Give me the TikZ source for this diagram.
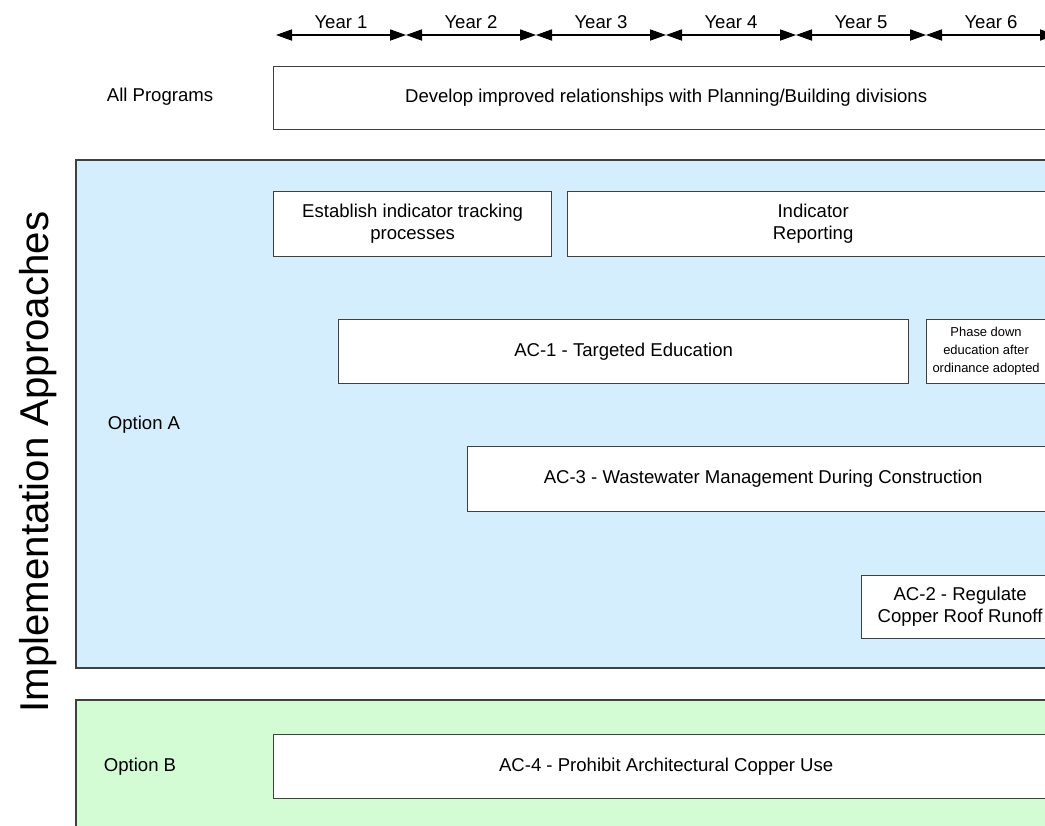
\documentclass[tikz,border=0pt]{standalone}
\usepackage{fontspec}
\setmainfont{Liberation Sans}
\usetikzlibrary{arrows.meta}
\definecolor{edge}{HTML}{404040}
\definecolor{optA}{HTML}{D4EEFD}
\definecolor{optB}{HTML}{D4FCD4}

\begin{document}
\begin{tikzpicture}[
    x=0.025cm, y=-0.025cm,
    every node/.style={font=\fontsize{13.2}{15.5}\selectfont},
    task/.style={draw=edge, fill=white, line width=0.8pt, anchor=north west,
        align=center, inner sep=0pt},
    region/.style={draw=edge, line width=1pt},
    yeararrow/.style={line width=0.8pt,
        {Triangle[length=0.4cm,width=0.28cm]}-{Triangle[length=0.4cm,width=0.28cm]}},
]
\clip (0,0) rectangle (1045,825);

% Option regions
\filldraw[region, fill=optA] (76,160) rectangle (1070,668);
\filldraw[region, fill=optB] (76,700) rectangle (1070,850);

% Year scale
\foreach \i in {0,...,5}
    \coordinate (y\i) at (276+130*\i,35);
\coordinate (y6) at (1056,35);
\foreach \i [evaluate=\i as \n using int(\i+1)] in {0,...,5}
    \draw[yeararrow] (y\i) -- node[above=1pt] {Year \n} (y\n);

% Row labels
\node (allprog) at (160,97) {All Programs};
\node (opta) at (144,425) {Option A};
\node (optb) at (140,767) {Option B};
\node[rotate=90, font=\fontsize{28.6}{32}\selectfont] (title) at (38,462)
    {Implementation Approaches};

% Tasks
\node[task, minimum width=19.625cm, minimum height=1.575cm] (develop) at (273,66)
    {Develop improved relationships with Planning/Building divisions};
\node[task, minimum width=6.95cm, minimum height=1.625cm] (tracking) at (273,191)
    {Establish indicator tracking\\processes};
\node[task, minimum width=12.275cm, minimum height=1.625cm] (reporting) at (567,191)
    {Indicator\\Reporting};
\node[task, minimum width=14.25cm, minimum height=1.6cm] (ac1) at (338,319)
    {AC-1 - Targeted Education};
\node[task, minimum width=2.975cm, minimum height=1.6cm,
    font=\fontsize{9.2}{12.8}\selectfont] (phasedown) at (926,319)
    {Phase down\\education after\\ordinance adopted};
\node[task, minimum width=14.775cm, minimum height=1.625cm] (ac3) at (467,446)
    {AC-3 - Wastewater Management During Construction};
\node[task, minimum width=4.925cm, minimum height=1.575cm] (ac2) at (861,575)
    {AC-2 - Regulate\\Copper Roof Runoff};
\node[task, minimum width=19.625cm, minimum height=1.6cm] (ac4) at (273,734)
    {AC-4 - Prohibit Architectural Copper Use};

\end{tikzpicture}
\end{document}
